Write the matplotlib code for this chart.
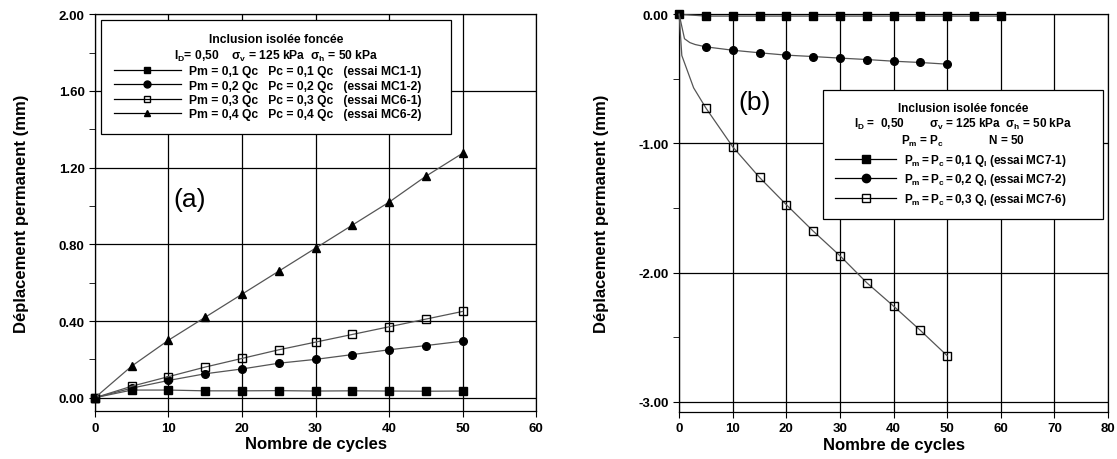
import numpy as np
import matplotlib
matplotlib.use('Agg')
from matplotlib import pyplot as plt
from matplotlib.ticker import MultipleLocator, FormatStrFormatter

plt.rcParams['font.family'] = ['Liberation Sans', 'DejaVu Sans']
plt.rcParams['mathtext.fontset'] = 'custom'
plt.rcParams['mathtext.rm'] = 'Liberation Sans:bold'
plt.rcParams['mathtext.it'] = 'Liberation Sans:bold'
plt.rcParams['mathtext.bf'] = 'Liberation Sans:bold'

################### donnees (a)
cycles_a = [0, 5, 10, 15, 20, 25, 30, 35, 40, 45, 50]
mc1_1 = [0, 0.040, 0.040, 0.036, 0.036, 0.037, 0.035, 0.036, 0.035, 0.034, 0.035]
mc1_2 = [0, 0.050, 0.090, 0.125, 0.150, 0.180, 0.200, 0.225, 0.250, 0.272, 0.295]
mc6_1 = [0, 0.060, 0.110, 0.160, 0.205, 0.250, 0.290, 0.330, 0.370, 0.410, 0.450]
mc6_2 = [0, 0.165, 0.300, 0.420, 0.540, 0.660, 0.780, 0.900, 1.020, 1.155, 1.275]
labels_a = ['Pm = 0,1 Qc   Pc = 0,1 Qc   (essai MC1-1)',
            'Pm = 0,2 Qc   Pc = 0,2 Qc   (essai MC1-2)',
            'Pm = 0,3 Qc   Pc = 0,3 Qc   (essai MC6-1)',
            'Pm = 0,4 Qc   Pc = 0,4 Qc   (essai MC6-2)']

################### donnees (b)
cycles_b1 = [0, 5, 10, 15, 20, 25, 30, 35, 40, 45, 50, 55, 60]
mc7_1 = [0, -0.015, -0.015, -0.015, -0.015, -0.015, -0.015, -0.015, -0.015, -0.015, -0.015, -0.015, -0.015]
cycles_b2 = [0, 1, 2, 3, 5, 10, 15, 20, 25, 30, 35, 40, 45, 50]
mc7_2 = [0, -0.19, -0.22, -0.235, -0.253, -0.279, -0.299, -0.317, -0.328, -0.340, -0.351, -0.364, -0.374, -0.387]
cycles_b6 = [0, 0.5, 2.7, 5, 10, 15, 20, 25, 30, 35, 40, 45, 50]
mc7_6 = [0, -0.32, -0.57, -0.727, -1.027, -1.264, -1.475, -1.679, -1.870, -2.079, -2.260, -2.448, -2.644]
labels_b = [r'$P_m = P_c = 0{,}1\ Q_l$ (essai MC7-1)',
            r'$P_m = P_c = 0{,}2\ Q_l$ (essai MC7-2)',
            r'$P_m = P_c = 0{,}3\ Q_l$ (essai MC7-6)']

linecol = '#555555'
fig = plt.figure(figsize=(11.17, 4.6), dpi=100)
ax1 = fig.add_axes([0.085, 0.104, 0.395, 0.863])
ax2 = fig.add_axes([0.608, 0.102, 0.384, 0.865])


def style(ax):
    ax.grid(True, which='major', color='black', linewidth=0.9)
    ax.set_axisbelow(True)
    ax.tick_params(which='both', direction='out', labelsize=9.5)
    ax.tick_params(which='major', length=4)
    ax.tick_params(which='minor', length=4)
    for lab in ax.get_xticklabels() + ax.get_yticklabels():
        lab.set_fontweight('bold')
    for s in ax.spines.values():
        s.set_linewidth(0.9)
    ax.set_xlabel('Nombre de cycles', fontsize=12, fontweight='bold', labelpad=2)
    ax.set_ylabel('Déplacement permanent (mm)', fontsize=12, fontweight='bold', labelpad=21)


def mk(ax, x, y, marker, fill, ms, every=None):
    return ax.plot(x, y, color=linecol, lw=0.9, marker=marker, ms=ms,
                   mfc='black' if fill else 'none', mec='black', mew=1.0,
                   markevery=every, clip_on=False, zorder=3)[0]


#################### (a)
h1 = mk(ax1, cycles_a, mc1_1, 's', True, 6)
h2 = mk(ax1, cycles_a, mc1_2, 'o', True, 5.5)
h3 = mk(ax1, cycles_a, mc6_1, 's', False, 6)
h4 = mk(ax1, cycles_a, mc6_2, '^', True, 6)
ax1.set_xlim(0, 60)
ax1.set_ylim(-0.07, 2.0)
ax1.xaxis.set_major_locator(MultipleLocator(10))
ax1.yaxis.set_major_locator(MultipleLocator(0.4))
ax1.yaxis.set_minor_locator(MultipleLocator(0.2))
ax1.yaxis.set_major_formatter(FormatStrFormatter('%.2f'))
style(ax1)
ax1.text(0.215, 0.534, '(a)', transform=ax1.transAxes, fontsize=19, ha='center', va='center')

hl = []
for m, f in [('s', True), ('o', True), ('s', False), ('^', True)]:
    hl.append(plt.Line2D([], [], color='black', lw=0.9, marker=m, ms=5,
                         mfc='black' if f else 'none', mec='black'))
leg1 = ax1.legend(hl, labels_a, loc='upper left', bbox_to_anchor=(0.0136, 0.985, 0.793, 0), mode='expand',
                  title='Inclusion isolée foncée\n' + r'$I_D$= 0,50    $\sigma_v$ = 125 kPa  $\sigma_h$ = 50 kPa',
                  prop={'weight': 'bold', 'size': 8.7}, title_fontproperties={'weight': 'bold', 'size': 8.7},
                  handlelength=5.5, numpoints=1, fancybox=False, framealpha=1, edgecolor='black',
                  borderpad=1.1, labelspacing=0.2, handletextpad=0.7, borderaxespad=0)
leg1.get_frame().set_linewidth(0.9)
leg1.get_title().set_multialignment('center')

#################### (b)
g1 = mk(ax2, cycles_b1, mc7_1, 's', True, 6)
g2 = mk(ax2, cycles_b2, mc7_2, 'o', True, 5.5, every=[i for i, c in enumerate(cycles_b2) if c % 5 == 0 and c > 0])
g3 = mk(ax2, cycles_b6, mc7_6, 's', False, 6, every=[i for i, c in enumerate(cycles_b6) if c % 5 == 0 and c > 0])
ax2.set_xlim(0, 80)
ax2.set_ylim(-3.08, 0.0)
ax2.xaxis.set_major_locator(MultipleLocator(10))
ax2.yaxis.set_major_locator(MultipleLocator(1.0))
ax2.yaxis.set_minor_locator(MultipleLocator(0.5))
ax2.yaxis.set_major_formatter(FormatStrFormatter('%.2f'))
style(ax2)
ax2.text(0.177, 0.78, '(b)', transform=ax2.transAxes, fontsize=19, ha='center', va='center')

hb = []
for m, f in [('s', True), ('o', True), ('s', False)]:
    hb.append(plt.Line2D([], [], color='black', lw=0.9, marker=m, ms=6,
                         mfc='black' if f else 'none', mec='black'))
leg2 = ax2.legend(hb, labels_b, loc='upper left', bbox_to_anchor=(0.336, 0.81, 0.652, 0), mode='expand',
                  title='Inclusion isolée foncée\n' + r'$I_D$ =  0,50        $\sigma_v$ = 125 kPa  $\sigma_h$ = 50 kPa' + '\n'
                        + r'$P_m$ = $P_c$              N = 50',
                  prop={'weight': 'bold', 'size': 8.5}, title_fontproperties={'weight': 'bold', 'size': 8.5},
                  handlelength=5.2, numpoints=1, fancybox=False, framealpha=1, edgecolor='black',
                  borderpad=1.0, labelspacing=0.3, handletextpad=0.6, borderaxespad=0)
leg2.get_frame().set_linewidth(0.9)
leg2.get_title().set_multialignment('center')

plt.savefig('out.png', dpi=100)
